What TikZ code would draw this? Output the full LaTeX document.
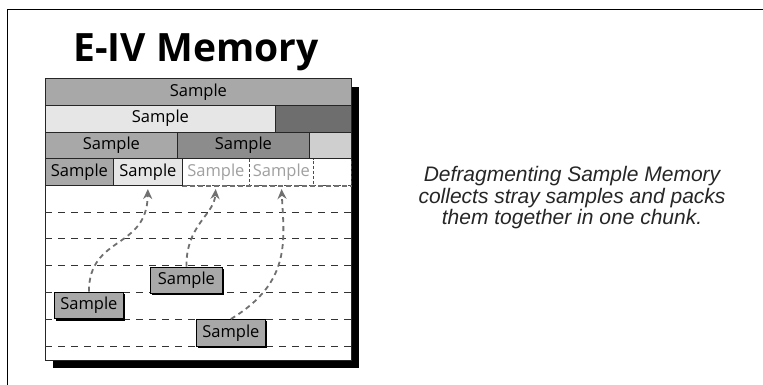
\documentclass[tikz,border=0pt]{standalone}
\usepackage{fontspec}
\usepackage{xcolor}
\usepackage{tikz}
\usetikzlibrary{arrows.meta, shadows}
\newfontfamily\titlefont{Open Sans}
\newfontfamily\samplefont{Open Sans}
\newfontfamily\notefont{Liberation Sans}
\definecolor{cellmid}{HTML}{A8A8A8}
\definecolor{celllight}{HTML}{E6E6E6}
\definecolor{celldark}{HTML}{6E6E6E}
\definecolor{cellgrey}{HTML}{8C8C8C}
\definecolor{cellpale}{HTML}{CFCFCF}
\definecolor{ghosttext}{HTML}{A0A0A0}
\definecolor{arrowgrey}{HTML}{707070}

\begin{document}
\begin{tikzpicture}[x=1pt, y=-1pt,
    cell/.style={draw=black!85, line width=0.8pt, inner sep=0pt, minimum height=26.8pt,
        anchor=north west, font=\samplefont\fontsize{16.5}{18}\selectfont},
    ghost/.style={cell, fill=white, draw=black!70, dash pattern=on 3pt off 2pt, text=ghosttext},
    stray/.style={cell, fill=cellmid, draw=black,
        drop shadow={shadow xshift=2pt, shadow yshift=-2pt, fill=black, opacity=1}},
    gridline/.style={black!80, line width=0.7pt, dash pattern=on 7pt off 6pt},
    moveline/.style={arrowgrey, line width=1.8pt, dash pattern=on 5pt off 4pt,
        shorten >=3pt, -{Stealth[length=10pt, width=9pt]}}]
    \useasboundingbox (0,0) rectangle (763,385);
    % Frame
    \draw[line width=1.5pt] (7.5,385) -- (7.5,9.5) -- (763,9.5);
    % Title
    \node[font=\titlefont\bfseries\fontsize{39}{44}\selectfont, anchor=base] (title) at (196,61.7) {E-IV Memory};
    % Memory box with shadow
    \fill[black] (53,87) rectangle (359,368);
    \draw[black!85, fill=white, line width=0.8pt] (45,78) rectangle (351,360);
    % Empty slots
    \foreach \k in {0,...,6}
        \draw[gridline] (45,185.2+26.8*\k) -- (351,185.2+26.8*\k);
    % Row 4 (fragmented)
    \node[ghost, minimum width=67pt] (c3) at (182,158.4) {Sample};
    \node[ghost, minimum width=64pt] (c4) at (249,158.4) {Sample};
    \node[ghost, minimum width=38pt] (c5) at (313,158.4) {};
    \draw[arrowgrey, line width=1.6pt, dash pattern=on 5pt off 3pt] (c3.south west) -- (c5.south east);
    \node[cell, fill=cellmid, minimum width=68pt] (c1) at (45,158.4) {Sample};
    \node[cell, fill=celllight, minimum width=69pt] (c2) at (113,158.4) {Sample};
    % Rows 1-3
    \node[cell, fill=cellmid, minimum width=306pt] (r1) at (45,78) {Sample};
    \node[cell, fill=celllight, minimum width=230pt] (r2a) at (45,104.8) {Sample};
    \node[cell, fill=celldark, minimum width=76pt] (r2b) at (275,104.8) {};
    \node[cell, fill=cellmid, minimum width=132pt] (r3a) at (45,131.6) {Sample};
    \node[cell, fill=cellgrey, minimum width=132pt] (r3b) at (177,131.6) {Sample};
    \node[cell, fill=cellpale, minimum width=42pt] (r3c) at (309,131.6) {};
    % Stray samples
    \node[stray, minimum width=69pt, minimum height=26.6pt] (sa) at (54,291.7) {Sample};
    \node[stray, minimum width=72pt, minimum height=26pt] (sb) at (150,266.7) {Sample};
    \node[stray, minimum width=69pt, minimum height=27pt] (sc) at (196,319) {Sample};
    % Moves
    \draw[moveline] (sa.north) .. controls (89,235) and (147,250) .. (c2.south);
    \draw[moveline] (sb.north) .. controls (186,225) and (214,215) .. (c3.south);
    \draw[moveline] (sc.north) .. controls (292,282) and (284,240) .. (c4.south);
    % Note
    \node[font=\notefont\itshape\fontsize{21}{21.7}\selectfont, align=center, text=black!85,
        anchor=north, inner sep=0pt] (note) at (572,166)
        {Defragmenting Sample Memory\\collects stray samples and packs\\them together in one chunk.};
\end{tikzpicture}
\end{document}
